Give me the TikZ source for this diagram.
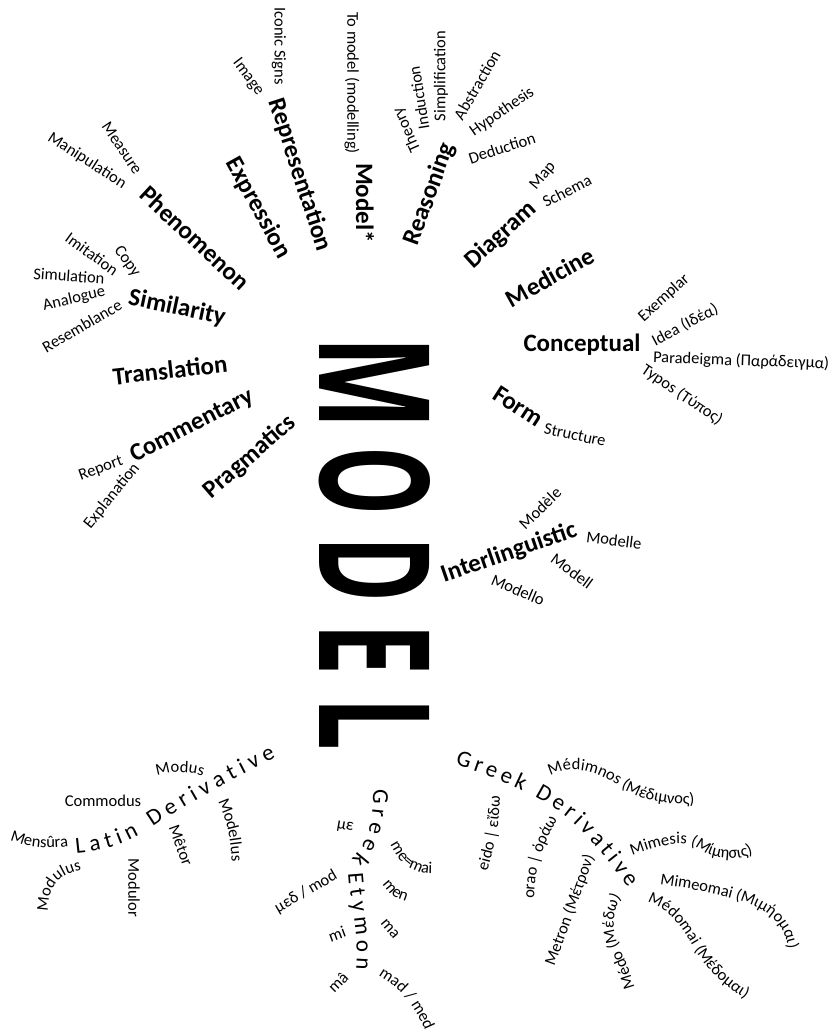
\documentclass[tikz,border=0pt]{standalone}
\usepackage{fontspec}
\usepackage{graphicx}
\setmainfont{Carlito}
\newfontfamily\heavyfont{Open Sans}
\usetikzlibrary{decorations.text}

\begin{document}
\begin{tikzpicture}[x=1pt,y=-1pt,
  w/.style={inner sep=0pt, font=\fontsize{16.5}{16.5}\selectfont},
  hw/.style={inner sep=0pt, font=\fontsize{25}{25}\selectfont\bfseries},
  big/.style={inner sep=0pt, rotate=-90},
  arcw/.style={decorate, decoration={text along path, text format delimiters={[}{]},
      text align=center, text={[\fontsize{16.5}{16.5}\selectfont]#1}}},
  arct/.style={decorate, decoration={text along path, text format delimiters={[}{]},
      text align={fit to path}, text={[\fontsize{23}{23}\selectfont]#1}}}]

\path[use as bounding box, fill=white] (0,0) rectangle (833,1032);

% the central word, one letter at a time
\node[big] (lM) at (375,383.5) {\resizebox{93pt}{110pt}{\heavyfont\bfseries M}};
\node[big] (lO) at (375,481.5) {\resizebox{69pt}{110pt}{\heavyfont\bfseries O}};
\node[big] (lD) at (375,570)   {\resizebox{66pt}{110pt}{\heavyfont\bfseries D}};
\node[big] (lE) at (375,650)   {\resizebox{52pt}{110pt}{\heavyfont\bfseries E}};
\node[big] (lL) at (375,723.5) {\resizebox{53pt}{110pt}{\heavyfont\bfseries L}};

% headings
\node[hw, rotate=-72] (representation) at (300,175) {Representation};
\node[hw, rotate=-90] (modelstar) at (365,203) {Model*};
\node[hw, rotate=-61] (expression) at (258,208) {Expression};
\node[hw, rotate=-43] (phenomenon) at (195,238) {Phenomenon};
\node[hw, rotate=70] (reasoning) at (430,194) {Reasoning};
\node[hw, rotate=42] (diagram) at (501,235) {Diagram};
\node[hw, rotate=29] (medicine) at (550,277) {Medicine};
\node[hw] (conceptual) at (582,345) {Conceptual};
\node[hw, rotate=-33] (form) at (518,406) {Form};
\node[hw, rotate=19] (interling) at (509,553) {Interlinguistic};
\node[hw, rotate=-12] (similarity) at (177,308) {Similarity};
\node[hw, rotate=6.5] (translation) at (170,370) {Translation};
\node[hw, rotate=27] (commentary) at (192,426) {Commentary};
\node[hw, rotate=41] (pragmatics) at (250,457) {Pragmatics};

% upper fan
\node[w, rotate=-90] (iconic) at (279,46) {Iconic Signs};
\node[w, rotate=-53] (image) at (248,77) {Image};
\node[w, rotate=-90] (tomodel) at (352,83) {To model (modelling)};
\node[w, rotate=-56] (measure) at (122,148) {Measure};
\node[w, rotate=-33] (manip) at (87,161) {Manipulation};
\node[w, rotate=114] (theory) at (407,130) {Theory};
\node[w, rotate=99] (induction) at (419,98) {Induction};
\node[w, rotate=90] (simplif) at (441,76) {Simplification};
\node[w, rotate=60] (abstraction) at (477,85) {Abstraction};
\node[w, rotate=35] (hypothesis) at (502,112) {Hypothesis};
\node[w, rotate=18] (deduction) at (502,148) {Deduction};
\node[w, rotate=50] (map) at (543,176) {Map};
\node[w, rotate=27] (schema) at (567,191) {Schema};

% right side
\node[w, rotate=42] (exemplar) at (664,298) {Exemplar};
\node[w, rotate=28] (idea) at (685,325) {Idea (Ιδέα)};
\node[w, rotate=-2, anchor=west] (paradeigma) at (653,358) {Paradeigma (Παράδειγμα)};
\node[w, rotate=-34] (typos) at (682,395) {Typos (Τύπος)};
\node[w, rotate=-12] (structure) at (575,435) {Structure};
\node[w, rotate=44] (modele) at (540,508) {Modèle};
\node[w, rotate=-7] (modelle) at (614,540) {Modelle};
\node[w, rotate=-36] (modell) at (572,571) {Modell};
\node[w, rotate=-23] (modello) at (518,590) {Modello};

% left side
\node[w, rotate=-36] (imitation) at (92,254) {Imitation};
\node[w, rotate=-54] (copy) at (127,262) {Copy};
\node[w, rotate=-4] (simulation) at (69,276) {Simulation};
\node[w, rotate=13] (analogue) at (74,299) {Analogue};
\node[w, rotate=30] (resemblance) at (82,326) {Resemblance};
\node[w, rotate=20] (report) at (101,469) {Report};
\node[w, rotate=51] (explanation) at (112,496) {Explanation};

% Latin derivatives
\path[arct={Latin Derivative}] (76,853) .. controls (110,850) and (130,842) .. (160,822)
  .. controls (200,797) and (240,775) .. (276,758);
\path[arcw={Modus}] (149,780) .. controls (165,770) and (195,770) .. (211,780);
\node[w] (commodus) at (103,801) {Commodus};
\path[arcw={Mensûra}] (3,837) .. controls (25,848) and (50,850) .. (76,845);
\path[arcw={Modulus}] (48,917) .. controls (47,890) and (55,873) .. (87,870);
\node[w, rotate=-90] (modulor) at (134,888) {Modulor};
\node[w, rotate=-70] (metor) at (181,845) {Mêtor};
\path[arcw={Modellus}] (216,796) .. controls (224,815) and (231,830) .. (232,867);

% Greek etymon
\path[arct={Greek Etymon}] (373,789) .. controls (374,830) and (365,845) .. (349,862)
  .. controls (345,885) and (360,925) .. (356,970);
\node[w, rotate=-10] (me) at (345,827) {με};
\path[arcw={me=mai}] (384,830) .. controls (392,850) and (400,866) .. (418,872)
  .. controls (428,875) and (438,874) .. (448,872);
\path[arcw={men}] (378,876) .. controls (385,890) and (392,900) .. (415,903);
\node[w, rotate=30] (medmod) at (306,892) {μεδ / mod};
\node[w, rotate=-50] (ma) at (390,929) {ma};
\node[w, rotate=20] (mi) at (337,934) {mi};
\node[w, rotate=45] (mac) at (338,982) {mâ};
\path[arcw={mad / med}] (374,973) .. controls (396,985) and (413,1000) .. (427,1035);

% Greek derivatives
\path[arct={Greek Derivative}] (455,765) .. controls (490,775) and (540,795) .. (570,820)
  .. controls (590,838) and (608,860) .. (628,888);
\path[arcw={eido | εἴδω}] (486,877) .. controls (494,845) and (500,830) .. (500,790);
\path[arcw={orao | ὁράω}] (534,900) .. controls (535,870) and (540,850) .. (558,818);
\node[w, rotate=70] (metron) at (570,910) {Metron (Μέτρον)};
\path[arcw={Médo (Μέδω)}] (637,998) .. controls (630,960) and (612,945) .. (614,920)
  .. controls (615,905) and (620,898) .. (628,888);
\path[arcw={Médimnos (Μέδιμνος)}] (544,780) .. controls (565,765) and (590,766) .. (620,787)
  .. controls (640,800) and (670,807) .. (702,803);
\path[arcw={Mimesis (Μίμησις)}] (623,859) .. controls (660,845) and (683,838) .. (700,850)
  .. controls (715,860) and (740,863) .. (762,849);
\path[arcw={Mimeomai (Μιμήομαι)}] (651,883) .. controls (700,890) and (745,898) .. (765,912)
  .. controls (780,922) and (788,935) .. (789,958);
\path[arcw={Médomai (Μέδομαι)}] (641,900) .. controls (670,908) and (680,925) .. (695,950)
  .. controls (710,975) and (730,990) .. (751,1002);
\end{tikzpicture}
\end{document}
